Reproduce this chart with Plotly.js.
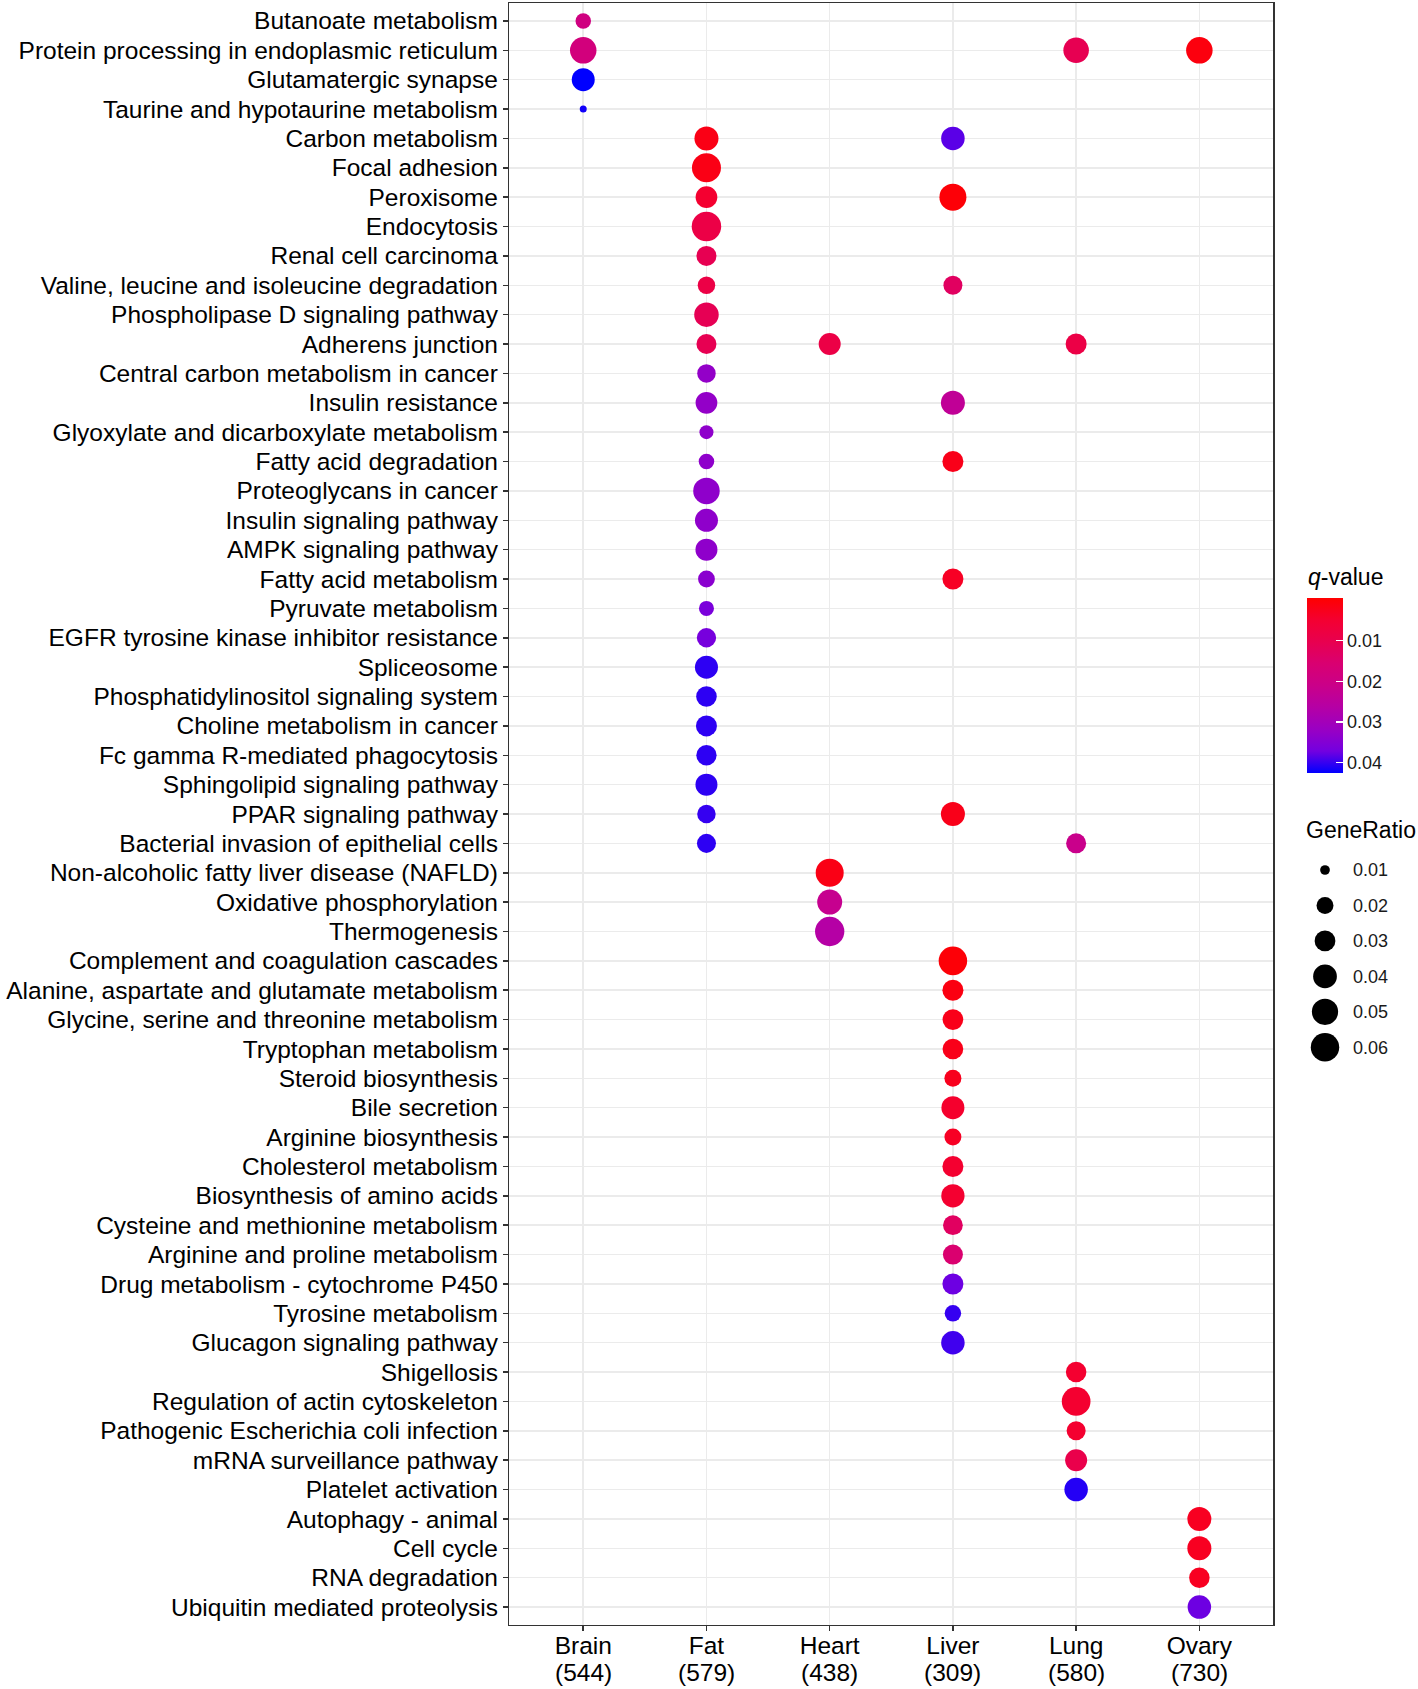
<!DOCTYPE html>
<html>
<head>
<meta charset="utf-8">
<script src="https://cdn.plot.ly/plotly-3.0.1.min.js"></script>
<style>
html,body{margin:0;padding:0;background:#ffffff;}
#chart{width:1418px;height:1689px;}
</style>
</head>
<body>
<div id="chart"></div>
<script>
// ---------------- data ----------------
const pathways = [
  'Butanoate metabolism','Protein processing in endoplasmic reticulum','Glutamatergic synapse','Taurine and hypotaurine metabolism',
  'Carbon metabolism','Focal adhesion','Peroxisome','Endocytosis','Renal cell carcinoma','Valine, leucine and isoleucine degradation',
  'Phospholipase D signaling pathway','Adherens junction','Central carbon metabolism in cancer','Insulin resistance',
  'Glyoxylate and dicarboxylate metabolism','Fatty acid degradation','Proteoglycans in cancer','Insulin signaling pathway',
  'AMPK signaling pathway','Fatty acid metabolism','Pyruvate metabolism','EGFR tyrosine kinase inhibitor resistance',
  'Spliceosome','Phosphatidylinositol signaling system','Choline metabolism in cancer','Fc gamma R-mediated phagocytosis',
  'Sphingolipid signaling pathway','PPAR signaling pathway','Bacterial invasion of epithelial cells',
  'Non-alcoholic fatty liver disease (NAFLD)','Oxidative phosphorylation','Thermogenesis',
  'Complement and coagulation cascades','Alanine, aspartate and glutamate metabolism','Glycine, serine and threonine metabolism',
  'Tryptophan metabolism','Steroid biosynthesis','Bile secretion','Arginine biosynthesis','Cholesterol metabolism',
  'Biosynthesis of amino acids','Cysteine and methionine metabolism','Arginine and proline metabolism',
  'Drug metabolism - cytochrome P450','Tyrosine metabolism','Glucagon signaling pathway','Shigellosis',
  'Regulation of actin cytoskeleton','Pathogenic Escherichia coli infection','mRNA surveillance pathway','Platelet activation',
  'Autophagy - animal','Cell cycle','RNA degradation','Ubiquitin mediated proteolysis'
];

const tissues = ['Brain','Fat','Heart','Liver','Lung','Ovary'];
const tissueGenes = [544, 579, 438, 309, 580, 730];

const dotPathway = [
  // Brain
  'Butanoate metabolism','Protein processing in endoplasmic reticulum','Glutamatergic synapse','Taurine and hypotaurine metabolism',
  // Fat
  'Carbon metabolism','Focal adhesion','Peroxisome','Endocytosis','Renal cell carcinoma','Valine, leucine and isoleucine degradation',
  'Phospholipase D signaling pathway','Adherens junction','Central carbon metabolism in cancer','Insulin resistance',
  'Glyoxylate and dicarboxylate metabolism','Fatty acid degradation','Proteoglycans in cancer','Insulin signaling pathway',
  'AMPK signaling pathway','Fatty acid metabolism','Pyruvate metabolism','EGFR tyrosine kinase inhibitor resistance',
  'Spliceosome','Phosphatidylinositol signaling system','Choline metabolism in cancer','Fc gamma R-mediated phagocytosis',
  'Sphingolipid signaling pathway','PPAR signaling pathway','Bacterial invasion of epithelial cells',
  // Heart
  'Adherens junction','Non-alcoholic fatty liver disease (NAFLD)','Oxidative phosphorylation','Thermogenesis',
  // Liver
  'Carbon metabolism','Peroxisome','Valine, leucine and isoleucine degradation','Insulin resistance','Fatty acid degradation',
  'Fatty acid metabolism','PPAR signaling pathway','Complement and coagulation cascades','Alanine, aspartate and glutamate metabolism',
  'Glycine, serine and threonine metabolism','Tryptophan metabolism','Steroid biosynthesis','Bile secretion','Arginine biosynthesis',
  'Cholesterol metabolism','Biosynthesis of amino acids','Cysteine and methionine metabolism','Arginine and proline metabolism',
  'Drug metabolism - cytochrome P450','Tyrosine metabolism','Glucagon signaling pathway',
  // Lung
  'Protein processing in endoplasmic reticulum','Adherens junction','Bacterial invasion of epithelial cells','Shigellosis',
  'Regulation of actin cytoskeleton','Pathogenic Escherichia coli infection','mRNA surveillance pathway','Platelet activation',
  // Ovary
  'Protein processing in endoplasmic reticulum','Autophagy - animal','Cell cycle','RNA degradation','Ubiquitin mediated proteolysis'
];

const dotTissue = [
  'Brain','Brain','Brain','Brain',
  'Fat','Fat','Fat','Fat','Fat','Fat','Fat','Fat','Fat','Fat','Fat','Fat','Fat','Fat','Fat','Fat','Fat','Fat','Fat','Fat','Fat','Fat','Fat','Fat','Fat',
  'Heart','Heart','Heart','Heart',
  'Liver','Liver','Liver','Liver','Liver','Liver','Liver','Liver','Liver','Liver','Liver','Liver','Liver','Liver','Liver','Liver','Liver','Liver','Liver','Liver','Liver',
  'Lung','Lung','Lung','Lung','Lung','Lung','Lung','Lung',
  'Ovary','Ovary','Ovary','Ovary','Ovary'
];

const geneRatio = [
  0.0172, 0.0511, 0.0374, 0.0092,
  0.0411, 0.0626, 0.0330, 0.0650, 0.0278, 0.0214, 0.0430, 0.0278, 0.0238, 0.0330, 0.0146, 0.0172, 0.0511, 0.0374, 0.0340, 0.0198, 0.0163, 0.0259, 0.0374, 0.0296, 0.0308, 0.0287, 0.0340, 0.0238, 0.0251,
  0.0340, 0.0578, 0.0449, 0.0640,
  0.0392, 0.0533, 0.0251, 0.0411, 0.0308, 0.0308, 0.0411, 0.0602, 0.0308, 0.0299, 0.0299, 0.0202, 0.0374, 0.0202, 0.0308, 0.0385, 0.0272, 0.0278, 0.0308, 0.0191, 0.0392,
  0.0470, 0.0308, 0.0278, 0.0293, 0.0612, 0.0251, 0.0340, 0.0392,
  0.0511, 0.0411, 0.0411, 0.0293, 0.0392
];

const qValue = [
  0.0190, 0.0180, 0.0425, 0.0417,
  0.0017, 0.0017, 0.0047, 0.0085, 0.0106, 0.0085, 0.0110, 0.0106, 0.0327, 0.0327, 0.0332, 0.0332, 0.0332, 0.0332, 0.0332, 0.0340, 0.0361, 0.0366, 0.0404, 0.0404, 0.0404, 0.0404, 0.0404, 0.0400, 0.0404,
  0.0085, 0.0017, 0.0221, 0.0264,
  0.0383, 0.0002, 0.0128, 0.0234, 0.0021, 0.0034, 0.0021, 0.0002, 0.0013, 0.0021, 0.0021, 0.0026, 0.0043, 0.0034, 0.0047, 0.0047, 0.0128, 0.0153, 0.0374, 0.0400, 0.0395,
  0.0106, 0.0085, 0.0213, 0.0047, 0.0047, 0.0047, 0.0094, 0.0408,
  0.0009, 0.0030, 0.0030, 0.0030, 0.0374
];

const sizeBreaks = [0.01, 0.02, 0.03, 0.04, 0.05, 0.06];
const qBreaks = [0.01, 0.02, 0.03, 0.04];

// ---------------- scales ----------------
const W = 1418, H = 1689;
const FONT = 'Liberation Sans, Arial, Helvetica, sans-serif';
const ratioMin = 0.0092, ratioMax = 0.065;
function dotSize(v) {
  const t = Math.max(0, v - ratioMin) / (ratioMax - ratioMin);
  return 7 + 22.5 * Math.sqrt(t);
}
// red -> blue gradient interpolated in Lab (as ggplot does); colour value is -q so red (low q) sits on top
const colorscale = [
  [0, '#0000FF'], [0.125, '#7300E0'], [0.25, '#9A00C3'], [0.375, '#B500A5'],
  [0.5, '#CA0089'], [0.625, '#D90071'], [0.75, '#E8004F'], [0.875, '#F40031'], [1, '#FF0000']
];
const qLow = -0.0006, qHigh = 0.0425;

const dots = {
  type: 'scatter', mode: 'markers',
  x: dotTissue, y: dotPathway,
  xaxis: 'x', yaxis: 'y',
  marker: {
    size: geneRatio.map(dotSize),
    color: qValue.map(q => -q),
    cmin: -qHigh, cmax: -qLow,
    colorscale: colorscale,
    line: {width: 0},
    opacity: 1,
    showscale: true,
    colorbar: {
      x: 1307 / W, xref: 'paper', xanchor: 'left', xpad: 0,
      y: 1 - 597.7 / H, yref: 'paper', yanchor: 'top', ypad: 0,
      len: 175, lenmode: 'pixels',
      thickness: 36, thicknessmode: 'pixels',
      outlinewidth: 0,
      tickvals: qBreaks.map(v => -v),
      ticktext: qBreaks.map(v => v.toFixed(2)),
      ticks: 'inside', ticklen: 7, tickwidth: 1.2, tickcolor: '#ffffff',
      tickfont: {family: FONT, size: 18, color: '#1a1a1a'}
    }
  },
  hoverinfo: 'skip',
  showlegend: false
};

const sizeLegend = {
  type: 'scatter', mode: 'markers',
  x: sizeBreaks.map(() => 0.5),
  y: sizeBreaks.map(v => v.toFixed(2)),
  xaxis: 'x2', yaxis: 'y2',
  marker: {size: sizeBreaks.map(dotSize), color: '#000000', opacity: 1, line: {width: 0}},
  hoverinfo: 'skip',
  showlegend: false
};

const annotations = tissues.map((t, i) => ({
  x: t, xref: 'x',
  y: 1 - 1672 / H, yref: 'paper', yanchor: 'middle',
  text: '(' + tissueGenes[i] + ')',
  showarrow: false,
  font: {family: FONT, size: 24.5, color: '#000000'}
}));
annotations.push({
  x: 1306 / W, xref: 'paper', xanchor: 'left',
  y: 1 - 577 / H, yref: 'paper', yanchor: 'middle',
  text: '<i>q</i>-value', showarrow: false,
  font: {family: FONT, size: 23, color: '#000000'}
});
annotations.push({
  x: 1304 / W, xref: 'paper', xanchor: 'left',
  y: 1 - 830 / H, yref: 'paper', yanchor: 'middle',
  text: 'GeneRatio', showarrow: false,
  font: {family: FONT, size: 23, color: '#000000'}
});

const layout = {
  width: W, height: H,
  margin: {l: 0, r: 0, t: 0, b: 0},
  paper_bgcolor: '#ffffff', plot_bgcolor: '#ffffff',
  font: {family: FONT, color: '#000000'},
  showlegend: false,
  xaxis: {
    domain: [509.3 / W, 1273.3 / W],
    type: 'category', categoryarray: tissues, categoryorder: 'array',
    range: [-0.6, tissues.length - 0.4],
    tickvals: tissues, ticktext: tissues,
    ticks: 'outside', ticklen: 5, tickwidth: 1.5, tickcolor: '#333333',
    ticklabelstandoff: -7,
    tickfont: {family: FONT, size: 24.5, color: '#000000'},
    showgrid: true, gridcolor: '#EBEBEB', gridwidth: 1.5,
    showline: true, mirror: true, linecolor: '#333333', linewidth: 1.5,
    zeroline: false, fixedrange: true, automargin: false, anchor: 'y'
  },
  yaxis: {
    domain: [1 - 1624.7 / H, 1 - 3.3 / H],
    type: 'category', categoryarray: pathways, categoryorder: 'array',
    range: [pathways.length - 0.4, -0.6],
    ticks: 'outside', ticklen: 5, tickwidth: 1.5, tickcolor: '#333333',
    tickfont: {family: FONT, size: 24.5, color: '#000000'},
    showgrid: true, gridcolor: '#EBEBEB', gridwidth: 1.5,
    showline: true, mirror: true, linecolor: '#333333', linewidth: 1.5,
    zeroline: false, fixedrange: true, automargin: false, anchor: 'x'
  },
  xaxis2: {
    domain: [1301 / W, 1349 / W], range: [0, 1], anchor: 'y2',
    visible: false, showgrid: false, zeroline: false, fixedrange: true
  },
  yaxis2: {
    domain: [1 - 1065.03 / H, 1 - 852.27 / H], anchor: 'x2', side: 'right',
    type: 'category', categoryarray: sizeBreaks.map(v => v.toFixed(2)), categoryorder: 'array',
    range: [sizeBreaks.length - 0.5, -0.5],
    showgrid: false, zeroline: false, showline: false, ticks: '',
    ticklabelstandoff: 3,
    tickfont: {family: FONT, size: 18, color: '#1a1a1a'},
    fixedrange: true, automargin: false
  },
  annotations: annotations
};

Plotly.newPlot('chart', [dots, sizeLegend], layout, {displayModeBar: false, staticPlot: true});
</script>
</body>
</html>
